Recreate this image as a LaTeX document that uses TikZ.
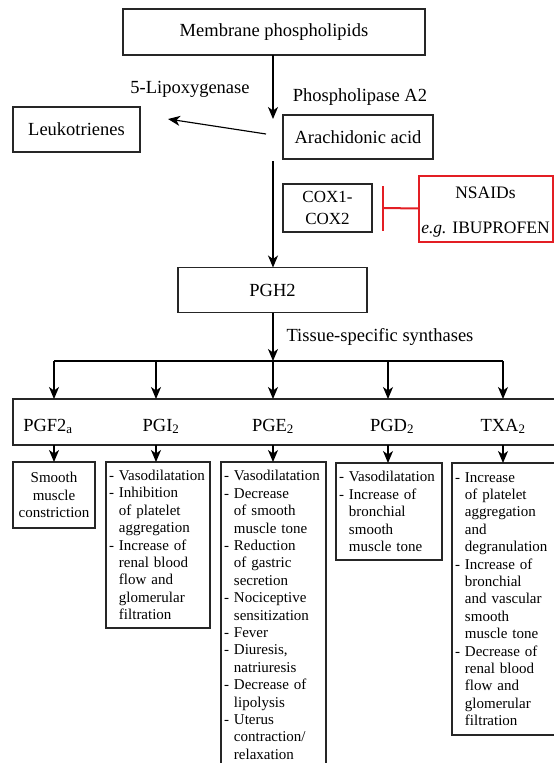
\documentclass[tikz,border=0pt]{standalone}
\usepackage{fontspec}
\setmainfont{Liberation Serif}
\usetikzlibrary{arrows.meta}
\definecolor{nsred}{RGB}{227,30,36}
\newcommand\hg{\hphantom{-}\ }
\tikzset{
  box/.style={draw=black!85, line width=1.05pt, inner sep=0pt, outer sep=0pt, align=center,
    font=\fontsize{18.5}{22}\selectfont},
  lbl/.style={inner sep=0pt, font=\fontsize{18.5}{22}\selectfont},
  sbox/.style={draw=black!85, line width=1.05pt, inner xsep=3pt, inner ysep=0pt, outer sep=0pt,
    align=left, anchor=north west, font=\fontsize{15}{17.4}\selectfont},
  arr/.style={line width=1.15pt, -{Stealth[length=12pt,width=10pt,inset=3.5pt]}},
  ln/.style={line width=1.15pt},
}
\begin{document}
\begin{tikzpicture}[x=1pt,y=-1pt]
\useasboundingbox (0,0) rectangle (554,763);
% top boxes
\node[box, minimum width=302pt, minimum height=46pt] (mem) at (274,32) {Membrane phospholipids};
\node[box, minimum width=127pt, minimum height=45pt] (leu) at (76.5,129.5) {Leukotrienes};
\node[box, minimum width=150pt, minimum height=44pt] (ara) at (358,137) {Arachidonic acid};
\node[box, minimum width=89pt, minimum height=48pt, font=\fontsize{17}{22}\selectfont] (cox) at (327.5,208) {COX1-\\COX2};
\node[box, draw=nsred, line width=2pt, minimum width=134pt, minimum height=66pt, font=\fontsize{17.5}{35}\selectfont] (nsaid) at (485.5,208.5) {\rule{0pt}{18pt}NSAIDs\\\textit{e.g.} IBUPROFEN};
\node[box, minimum width=189pt, minimum height=45pt] (pgh) at (272.5,290) {PGH2};
% labels
\node[lbl] (lox) at (190,89) {5-Lipoxygenase};
\node[lbl] (pla) at (360,97) {Phospholipase A2};
\node[lbl] (tss) at (380,337) {Tissue-specific synthases};
% coordinates
\coordinate (a1) at (273,119);
\coordinate (l0) at (266,134);
\coordinate (l1) at (168,119);
\coordinate (v0) at (273,161);
\coordinate (bar) at (273,361);
\coordinate (bl) at (54,361);
\coordinate (br) at (503,361);
% arrows
\draw[arr] (mem.south -| a1) -- (a1);
\draw[arr] (l0) -- (l1);
\draw[arr] (v0) -- (v0 |- pgh.north);
\draw[arr] (pgh.south -| bar) -- (bar);
\draw[ln] (bl) -- (br);
% inhibition
\coordinate (rb1) at (383,186);
\coordinate (rb2) at (383,231);
\draw[nsred, line width=2pt] (rb1) -- (rb2);
\draw[nsred, line width=2pt] (383,208) -- (nsaid.west);
% row box
\node[box, minimum width=552pt, minimum height=46pt] (row) at (289,422) {};
\node[lbl, anchor=base] (pgf) at (48,431) {PGF2\textsubscript{a}};
\node[lbl, anchor=base] (pgi) at (161,431) {PGI\textsubscript{2}};
\node[lbl, anchor=base] (pge) at (273,431) {PGE\textsubscript{2}};
\node[lbl, anchor=base] (pgd) at (392,431) {PGD\textsubscript{2}};
\node[lbl, anchor=base] (txa) at (503,431) {TXA\textsubscript{2}};
\foreach \x in {54,156,273,388,503} \draw[arr] (\x,361) -- (\x,399);
% small boxes
\node[sbox, align=center, text width=76pt, minimum height=66pt] (b1) at (13,462) {Smooth\\muscle\\constriction};
\node[sbox, text width=98pt, minimum height=166pt] (b2) at (106,462) {- Vasodilatation\\- Inhibition\\\hg of platelet\\\hg aggregation\\- Increase of\\\hg renal blood\\\hg flow and\\\hg glomerular\\\hg filtration};
\node[sbox, text width=99pt, minimum height=306pt] (b3) at (221,462) {- Vasodilatation\\- Decrease\\\hg of smooth\\\hg muscle tone\\- Reduction\\\hg of gastric\\\hg secretion\\- Nociceptive\\\hg sensitization\\- Fever\\- Diuresis,\\\hg natriuresis\\- Decrease of\\\hg lipolysis\\- Uterus\\\hg contraction/\\\hg relaxation};
\node[sbox, text width=100pt, minimum height=97pt] (b4) at (336,463) {- Vasodilatation\\- Increase of\\\hg bronchial\\\hg smooth\\\hg muscle tone};
\node[sbox, text width=104pt, minimum height=272pt] (b5) at (452,463) {- Increase\\\hg of platelet\\\hg aggregation\\\hg and\\\hg degranulation\\- Increase of\\\hg bronchial\\\hg and vascular\\\hg smooth\\\hg muscle tone\\- Decrease of\\\hg renal blood\\\hg flow and\\\hg glomerular\\\hg filtration};
\draw[arr] (row.south -| b1.north) -- (b1.north);
\draw[arr] (row.south -| 156,0) -- (156,462);
\draw[arr] (row.south -| 273,0) -- (273,462);
\draw[arr] (row.south -| 388,0) -- (388,463);
\draw[arr] (row.south -| 503,0) -- (503,463);
\end{tikzpicture}
\end{document}
